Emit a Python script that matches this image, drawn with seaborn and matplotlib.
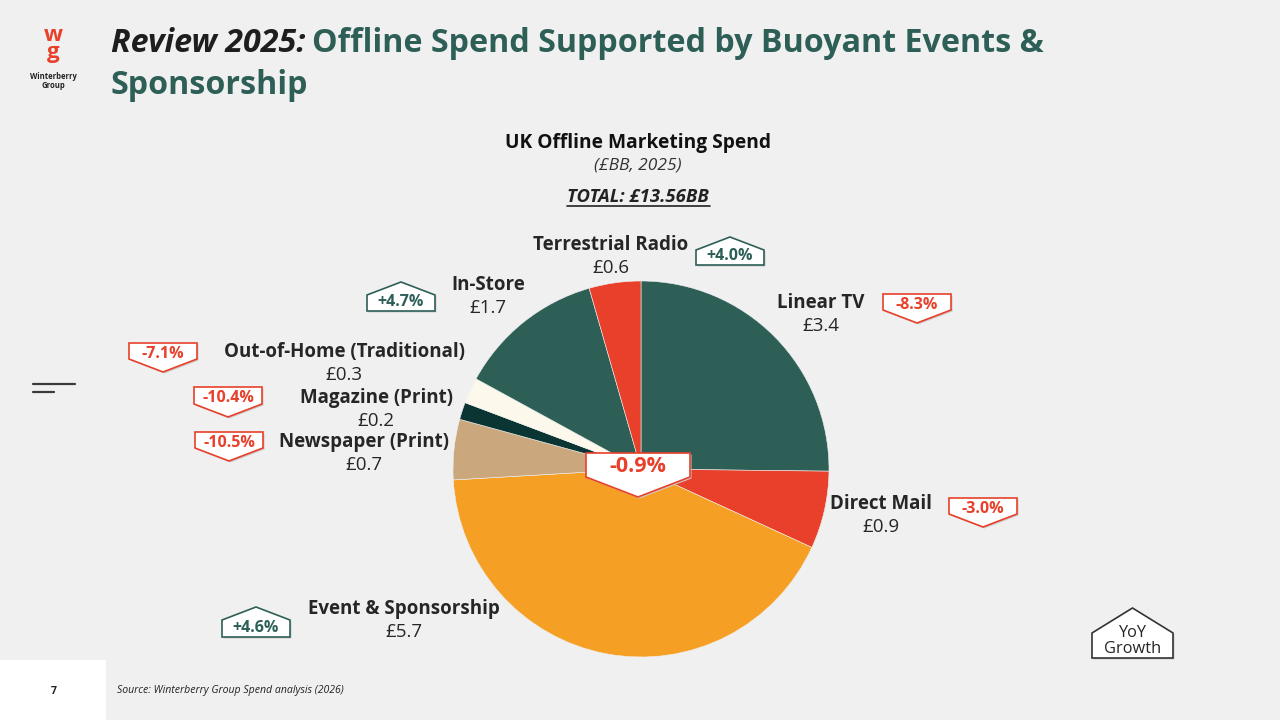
import matplotlib
matplotlib.use("Agg")
import matplotlib.pyplot as plt
from matplotlib.patches import Polygon, Rectangle
import seaborn as sns

# ---------------- data ----------------
categories = ["Linear TV", "Direct Mail", "Event & Sponsorship", "Newspaper (Print)",
              "Magazine (Print)", "Out-of-Home (Traditional)", "In-Store", "Terrestrial Radio"]
spend = [3.4, 0.9, 5.7, 0.7, 0.2, 0.3, 1.7, 0.6]
growth = [-8.3, -3.0, 4.6, -10.5, -10.4, -7.1, 4.7, 4.0]
total_growth = -0.9
total_spend = 13.56

GREEN = "#2D5F57"
RED = "#E8402A"
ORANGE = "#F5A025"
TAN = "#CBA77E"
DARK = "#0B3533"
CREAM = "#FDF8EC"
slice_colors = [GREEN, RED, ORANGE, TAN, DARK, CREAM, GREEN, RED]
BG = "#F0F0F0"
TXT = "#262626"

sns.set_theme(style="white")
plt.rcParams["font.family"] = ["Open Sans", "DejaVu Sans"]

W, H = 1280, 720
fig = plt.figure(figsize=(12.8, 7.2), dpi=100, facecolor=BG)

def fx(px):
    return px / W

def fy(py):
    return 1 - py / H

# ---------------- pie ----------------
cx, cy, r = 641, 469, 188
ax = fig.add_axes([fx(cx - r), fy(cy + r), 2 * r / W, 2 * r / H])
ax.set_facecolor(BG)
ax.pie(spend, colors=slice_colors, startangle=90, counterclock=False, radius=1,
       wedgeprops=dict(edgecolor=BG, linewidth=0.4))
ax.set_xlim(-1, 1)
ax.set_ylim(-1, 1)
ax.set_aspect("equal")
ax.axis("off")

# ---------------- labels ----------------
label_pos = {
    "Linear TV": (821, 303),
    "Direct Mail": (881, 504),
    "Event & Sponsorship": (404, 609),
    "Newspaper (Print)": (364, 442),
    "Magazine (Print)": (376, 398),
    "Out-of-Home (Traditional)": (344, 352),
    "In-Store": (488, 285),
    "Terrestrial Radio": (611, 245),
}
for cat, val in zip(categories, spend):
    x, y = label_pos[cat]
    fig.text(fx(x), fy(y), cat, ha="center", va="center", fontsize=13.5,
             fontweight="bold", color=TXT)
    fig.text(fx(x), fy(y + 23), f"£{val:.1f}", ha="center", va="center",
             fontsize=13.5, color=TXT)

# ---------------- badges ----------------
def badge(x0, x1, top, bottom, text, positive, fs=11.5, tip=13, ec=None, tc=None, dy=0):
    xm = (x0 + x1) / 2
    if positive:
        pts = [(x0, top + tip), (xm, top), (x1, top + tip), (x1, bottom), (x0, bottom)]
        ty = (top + tip + bottom) / 2 - 1
    else:
        pts = [(x0, top), (x1, top), (x1, bottom - tip), (xm, bottom), (x0, bottom - tip)]
        ty = (top + bottom - tip) / 2 + 3
    ty += dy
    col = ec if ec else (GREEN if positive else RED)
    shadow = Polygon([(fx(px + 1.5), fy(py + 1.5)) for px, py in pts], closed=True,
                     transform=fig.transFigure, facecolor="#cccccc", edgecolor="none",
                     zorder=5)
    poly = Polygon([(fx(px), fy(py)) for px, py in pts], closed=True,
                   transform=fig.transFigure, facecolor="white", edgecolor=col,
                   linewidth=1.2, zorder=6)
    fig.add_artist(shadow)
    fig.add_artist(poly)
    if text:
        fig.text(fx(xm), fy(ty), text, ha="center", va="center", fontsize=fs,
                 fontweight="bold", color=tc if tc else col, zorder=7)

badge_box = {
    "Linear TV": (883, 951, 294, 323),
    "Direct Mail": (949, 1017, 498, 527),
    "Event & Sponsorship": (222, 290, 607, 637),
    "Newspaper (Print)": (195, 263, 432, 461),
    "Magazine (Print)": (194, 262, 387, 417),
    "Out-of-Home (Traditional)": (129, 197, 343, 372),
    "In-Store": (367, 435, 282, 311),
    "Terrestrial Radio": (696, 764, 237, 265),
}
for cat, g in zip(categories, growth):
    x0, x1, t, b = badge_box[cat]
    badge(x0, x1, t, b, f"{g:+.1f}%", g >= 0)

# centre total growth badge
badge(586, 690, 453, 497, f"{total_growth:+.1f}%", total_growth >= 0,
      fs=15.5, tip=20, ec=RED, dy=-2)

# YoY legend badge
badge(1092, 1173, 608, 658, "", True, tip=25, ec="#333333")
fig.text(fx(1132.5), fy(641), "YoY\nGrowth", ha="center", va="center", fontsize=11.8,
         color=TXT, zorder=8, linespacing=1.0)

# ---------------- chart heading ----------------
fig.text(fx(638), fy(143), "UK Offline Marketing Spend", ha="center", va="center",
         fontsize=13.8, fontweight="bold", color="#111111")
fig.text(fx(638), fy(166), "(£BB, 2025)", ha="center", va="center",
         fontsize=12.5, fontstyle="italic", color="#333333")
fig.text(fx(638), fy(197), f"TOTAL: £{total_spend:.2f}BB", ha="center", va="center",
         fontsize=13.3, fontstyle="italic", fontweight="bold", color="#222222")
fig.add_artist(plt.Line2D([fx(567), fx(710)], [fy(206), fy(206)],
                          transform=fig.transFigure, color="#222222", linewidth=1.2))

# ---------------- title ----------------
t1 = fig.text(fx(111), fy(43), "Review 2025:", ha="left", va="center", fontsize=23.2,
              fontweight="bold", fontstyle="italic", color="#1e1e1e")
fig.canvas.draw()
bb = t1.get_window_extent()
fig.text(bb.x1 / W + fx(6), fy(43), "Offline Spend Supported by Buoyant Events &",
         ha="left", va="center", fontsize=23.2, fontweight="bold", color=GREEN)
fig.text(fx(111), fy(86), "Sponsorship", ha="left", va="center", fontsize=23.2,
         fontweight="bold", color=GREEN)

# ---------------- logo ----------------
fig.text(fx(53), fy(44), "w\ng", ha="center", va="center", fontsize=16, fontweight="bold",
         color=RED, linespacing=0.8)
fig.text(fx(53), fy(81), "Winterberry\nGroup", ha="center", va="center", fontsize=5.5,
         fontweight="bold", color="#222222", linespacing=1.1)

# decorative lines
fig.add_artist(plt.Line2D([fx(33), fx(75)], [fy(384), fy(384)], transform=fig.transFigure,
                          color="#3a3a3a", linewidth=1.6))
fig.add_artist(plt.Line2D([fx(33), fx(54)], [fy(392), fy(392)], transform=fig.transFigure,
                          color="#3a3a3a", linewidth=1.6))

# ---------------- footer ----------------
fig.add_artist(Rectangle((0, 0), fx(106), 60 / H, transform=fig.transFigure,
                         facecolor="white", edgecolor="none"))
fig.text(fx(54), fy(691), "7", ha="center", va="center", fontsize=7.5,
         fontweight="bold", color="#222222")
fig.text(fx(117), fy(691), "Source: Winterberry Group Spend analysis (2026)", ha="left",
         va="center", fontsize=7.6, fontstyle="italic", color="#222222")

fig.savefig("out.png", dpi=100, facecolor=BG)
